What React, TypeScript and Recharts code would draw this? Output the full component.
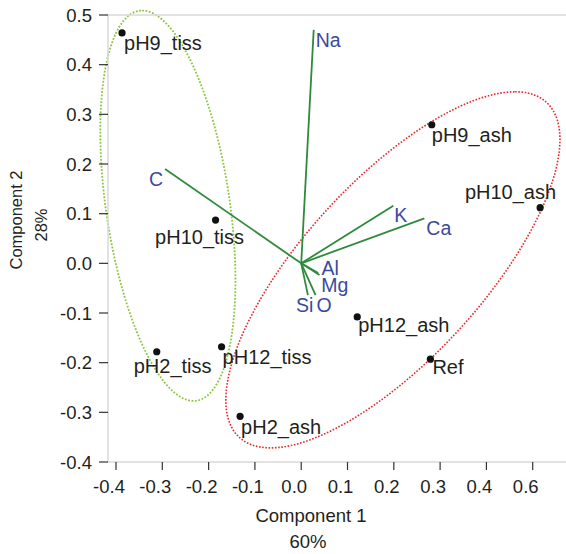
import { ScatterChart, Scatter, XAxis, YAxis, ReferenceLine, ReferenceArea } from "recharts";

// samples (scores)
const sampleNames = ["pH9_tiss", "pH10_tiss", "pH2_tiss", "pH12_tiss", "pH9_ash", "pH10_ash", "pH12_ash", "pH2_ash", "Ref"];
const sampleX = [-0.387, -0.185, -0.312, -0.172, 0.282, 0.516, 0.121, -0.132, 0.279];
const sampleY = [0.464, 0.087, -0.178, -0.168, 0.279, 0.112, -0.108, -0.308, -0.193];

// elements (loadings)
const elementNames = ["Na", "C", "K", "Ca", "Al", "Mg", "Si", "O"];
const loadingX = [0.027, -0.294, 0.199, 0.266, 0.0395, 0.0367, 0.0145, 0.031];
const loadingY = [0.47, 0.19, 0.116, 0.0907, -0.0236, -0.0196, -0.0639, -0.0639];

// group ellipses: centre and two conjugate half-diameters (u, and v horizontal)
const groupNames = ["tiss", "ash"];
const groupCenterX = [-0.288, 0.198];
const groupCenterY = [0.116, -0.0131];
const groupUX = [-0.0555, 0.264];
const groupUY = [0.393, 0.3585];
const groupVX = [0.135, 0.246];

const xTicks = [-0.4, -0.3, -0.2, -0.1, 0, 0.1, 0.2, 0.3, 0.4, 0.5];
const xTickLabels = ["-0.4", "-0.3", "-0.2", "-0.1", "0.0", "0.1", "0.2", "0.3", "0.4", "0.6"];
const yTicks = [-0.4, -0.3, -0.2, -0.1, 0, 0.1, 0.2, 0.3, 0.4, 0.5];
const yTickLabels = ["-0.4", "-0.3", "-0.2", "-0.1", "0.0", "0.1", "0.2", "0.3", "0.4", "0.5"];

const FONT = "'Liberation Sans', Arial, sans-serif";
const TEXT = "#231f20";
const BLUE = "#3b4a9e";
const VECTOR = "#2f8a3c";
const AXIS_GREY = "#d9d9d9";

// label placement in px relative to the mark
const sampleLabelPos: Record<string, [number, number, string]> = {
  pH9_tiss: [2, 17, "start"],
  pH10_tiss: [-16, 24, "middle"],
  pH2_tiss: [-23, 21, "start"],
  pH12_tiss: [1, 17, "start"],
  pH9_ash: [0, 17, "start"],
  pH10_ash: [16, -9, "end"],
  pH12_ash: [1, 15, "start"],
  pH2_ash: [1, 18, "start"],
  Ref: [2, 15, "start"],
};
const elementLabelPos: Record<string, [number, number, string]> = {
  Na: [2, 17, "start"],
  C: [-2, 17, "end"],
  K: [1, 16, "start"],
  Ca: [2, 17, "start"],
  Al: [2, 0, "start"],
  Mg: [3, 19, "start"],
  Si: [-12, 17, "start"],
  O: [1, 17, "start"],
};
const ellipseStyle = [
  { stroke: "#8cc63f", width: 1.8, dash: "1.8 1.6" },
  { stroke: "#e8262b", width: 1.6, dash: "1.6 1.6" },
];

const samples = sampleNames.map((name, i) => ({ name, x: sampleX[i], y: sampleY[i] }));
const loadings = elementNames.map((name, i) => ({ name, x: loadingX[i], y: loadingY[i] }));

function ellipseShape(g: number) {
  const ux = groupUX[g], uy = groupUY[g], vx = groupVX[g];
  const r = Math.hypot(ux, vx);
  const st = ellipseStyle[g];
  return (props: any) => {
    const { x, y, width, height } = props;
    const sx = width / (2 * r);
    const sy = height / (2 * uy);
    const cx = x + width / 2;
    const cy = y + height / 2;
    const pts: string[] = [];
    for (let i = 0; i <= 200; i++) {
      const t = (i / 200) * Math.PI * 2;
      const px = cx + (ux * Math.cos(t) + vx * Math.sin(t)) * sx;
      const py = cy - uy * Math.cos(t) * sy;
      pts.push(px.toFixed(2) + "," + py.toFixed(2));
    }
    return (
      <path
        d={"M" + pts.join("L") + "Z"}
        fill="none"
        stroke={st.stroke}
        strokeWidth={st.width}
        strokeDasharray={st.dash}
      />
    );
  };
}

const SampleMark = (props: any) => {
  const { cx, cy, payload } = props;
  const [dx, dy, anchor] = sampleLabelPos[payload.name];
  return (
    <g>
      <circle cx={cx} cy={cy} r={3.6} fill="#111" />
      <text x={cx + dx} y={cy + dy} textAnchor={anchor as any} fontSize={20} fontFamily={FONT} fill={TEXT}>
        {payload.name}
      </text>
    </g>
  );
};

const ElementLabel = (props: any) => {
  const { cx, cy, payload } = props;
  const [dx, dy, anchor] = elementLabelPos[payload.name];
  return (
    <text x={cx + dx} y={cy + dy} textAnchor={anchor as any} fontSize={19.5} fontFamily={FONT} fill={BLUE}>
      {payload.name}
    </text>
  );
};

const XTick = (props: any) => {
  const { x, y, payload } = props;
  const i = xTicks.findIndex((t) => Math.abs(t - payload.value) < 1e-9);
  return (
    <text x={x - 7} y={y} dy="0.71em" textAnchor="middle" fontSize={18.5} fontFamily={FONT} fill={TEXT}>
      {xTickLabels[i]}
    </text>
  );
};

const YTick = (props: any) => {
  const { x, y, payload } = props;
  const i = yTicks.findIndex((t) => Math.abs(t - payload.value) < 1e-9);
  return (
    <text x={x} y={y} dy="0.36em" textAnchor="end" fontSize={18.5} fontFamily={FONT} fill={TEXT}>
      {yTickLabels[i]}
    </text>
  );
};

const XTitle = (props: any) => {
  const vb = props.viewBox || { x: 108, y: 462 };
  return (
    <g fontFamily={FONT} fill={TEXT} fontSize={18.5}>
      <text x={vb.x + 203} y={vb.y + 60} textAnchor="middle">Component 1</text>
      <text x={vb.x + 200} y={vb.y + 86} textAnchor="middle">60%</text>
    </g>
  );
};

const YTitle = (props: any) => {
  const vb = props.viewBox || { x: 0, y: 15 };
  const cy1 = vb.y + 205;
  const cy2 = vb.y + 210;
  return (
    <g fontFamily={FONT} fill={TEXT} fontSize={16.5}>
      <text x={22} y={cy1} textAnchor="middle" transform={`rotate(-90, 22, ${cy1})`}>Component 2</text>
      <text x={47} y={cy2} textAnchor="middle" transform={`rotate(-90, 47, ${cy2})`}>28%</text>
    </g>
  );
};

export default function App() {
  return (
    <div style={{ position: "absolute", left: 0, top: 0, background: "#fff" }}>
      <ScatterChart width={566} height={554} margin={{ top: 15, right: 0, bottom: 0, left: 0 }}>
        <XAxis
          type="number"
          dataKey="x"
          domain={[-0.4173, 0.5719]}
          allowDataOverflow
          ticks={xTicks}
          interval={0}
          height={92}
          tickSize={8}
          tickMargin={10}
          axisLine={{ stroke: AXIS_GREY, strokeWidth: 1.5 }}
          tickLine={{ stroke: "#333", strokeWidth: 1.2 }}
          tick={<XTick />}
          label={<XTitle />}
        />
        <YAxis
          type="number"
          dataKey="y"
          domain={[-0.4, 0.5]}
          allowDataOverflow
          ticks={yTicks}
          interval={0}
          width={108}
          tickSize={9}
          tickMargin={7}
          axisLine={{ stroke: AXIS_GREY, strokeWidth: 1.5 }}
          tickLine={{ stroke: "#333", strokeWidth: 1.2 }}
          tick={<YTick />}
          label={<YTitle />}
        />
        <ReferenceLine y={0.5} stroke={AXIS_GREY} strokeWidth={1.5} />
        {groupNames.map((g, i) => {
          const r = Math.hypot(groupUX[i], groupVX[i]);
          return (
            <ReferenceArea
              key={g}
              x1={groupCenterX[i] - r}
              x2={groupCenterX[i] + r}
              y1={groupCenterY[i] - groupUY[i]}
              y2={groupCenterY[i] + groupUY[i]}
              ifOverflow="visible"
              shape={ellipseShape(i)}
            />
          );
        })}
        {loadings.map((d) => (
          <ReferenceLine
            key={d.name}
            segment={[{ x: 0, y: 0 }, { x: d.x, y: d.y }]}
            stroke={VECTOR}
            strokeWidth={1.8}
            ifOverflow="visible"
          />
        ))}
        <Scatter data={loadings} shape={<ElementLabel />} isAnimationActive={false} />
        <Scatter data={samples} shape={<SampleMark />} isAnimationActive={false} />
      </ScatterChart>
    </div>
  );
}
